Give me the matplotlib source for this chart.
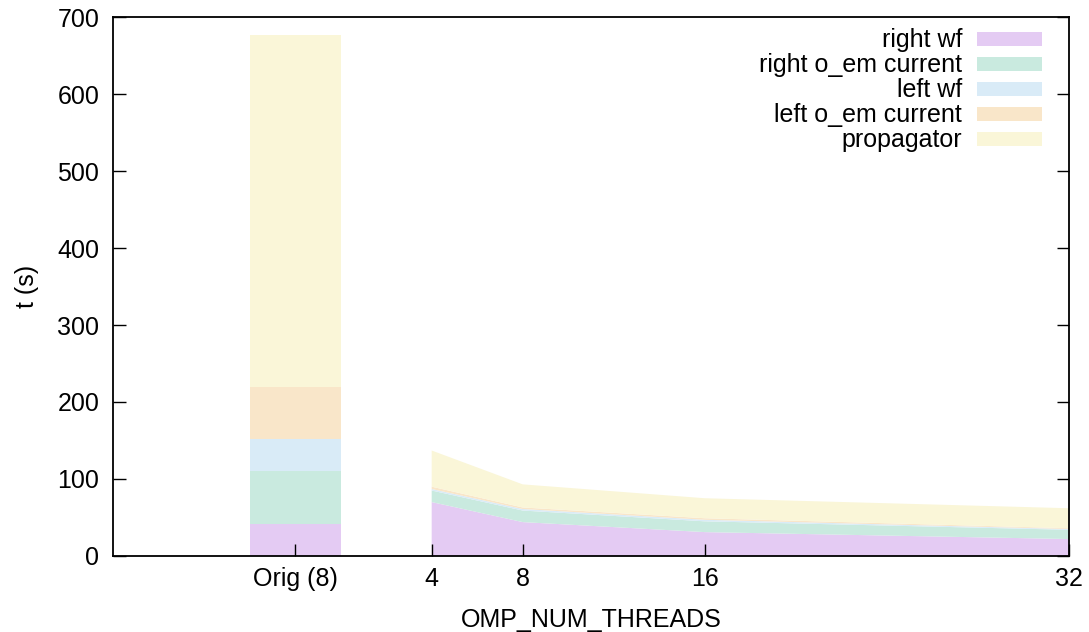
import matplotlib.pyplot as plt

plt.rcParams['font.family'] = ['Liberation Sans', 'DejaVu Sans']

labels = ["right wf", "right o_em current", "left wf", "left o_em current", "propagator"]
colors = ["#e4cbf3", "#c9eadf", "#d9ebf7", "#f9e6c9", "#faf6d8"]

# original code, run with 8 threads (one stacked bar)
orig_x = -2
orig_vals = [42, 68, 42, 68, 457]

# OMP_NUM_THREADS scan (stacked areas)
threads = [4, 8, 16, 32]
right_wf = [70, 44, 31, 22]
right_oem = [15, 15, 14, 12]
left_wf = [2, 2, 2, 1]
left_oem = [3, 2, 2, 1]
propagator = [47, 30, 26, 26]

tick_pos = [-2, 4, 8, 16, 32]
tick_lab = ["Orig (8)", "4", "8", "16", "32"]

fs = 18

fig = plt.figure(figsize=(10.89, 6.32), dpi=100)
ax = fig.add_axes([0.1038, 0.1203, 0.8778, 0.8527])

bottom = 0
for v, c, lab in zip(orig_vals, colors, labels):
    ax.bar(orig_x, v, width=4, bottom=bottom, color=c, label=lab, linewidth=0)
    bottom += v

ax.stackplot(threads, right_wf, right_oem, left_wf, left_oem, propagator,
             colors=colors, linewidth=0)

ax.set_xlim(-10, 32)
ax.set_ylim(0, 700)
ax.set_xticks(tick_pos)
ax.set_xticklabels(tick_lab)
ax.set_yticks(range(0, 701, 100))
ax.tick_params(direction="in", length=9, width=1, labelsize=fs, pad=8,
               right=True, colors="black")
ax.tick_params(axis="y", pad=10)
for s in ax.spines.values():
    s.set_linewidth(1.3)
ax.set_xlabel("OMP_NUM_THREADS", fontsize=fs, labelpad=12)
ax.set_ylabel("t (s)", fontsize=fs, labelpad=13)

handles, labs = ax.get_legend_handles_labels()
ax.legend(handles, labs, loc="upper right", bbox_to_anchor=(0.957, 0.955),
          bbox_transform=fig.transFigure, frameon=False, markerfirst=False,
          fontsize=fs, handlelength=2.6, handleheight=0.48, labelspacing=0.04,
          handletextpad=0.6, borderaxespad=0, borderpad=0)

fig.savefig("out.png", dpi=100)
